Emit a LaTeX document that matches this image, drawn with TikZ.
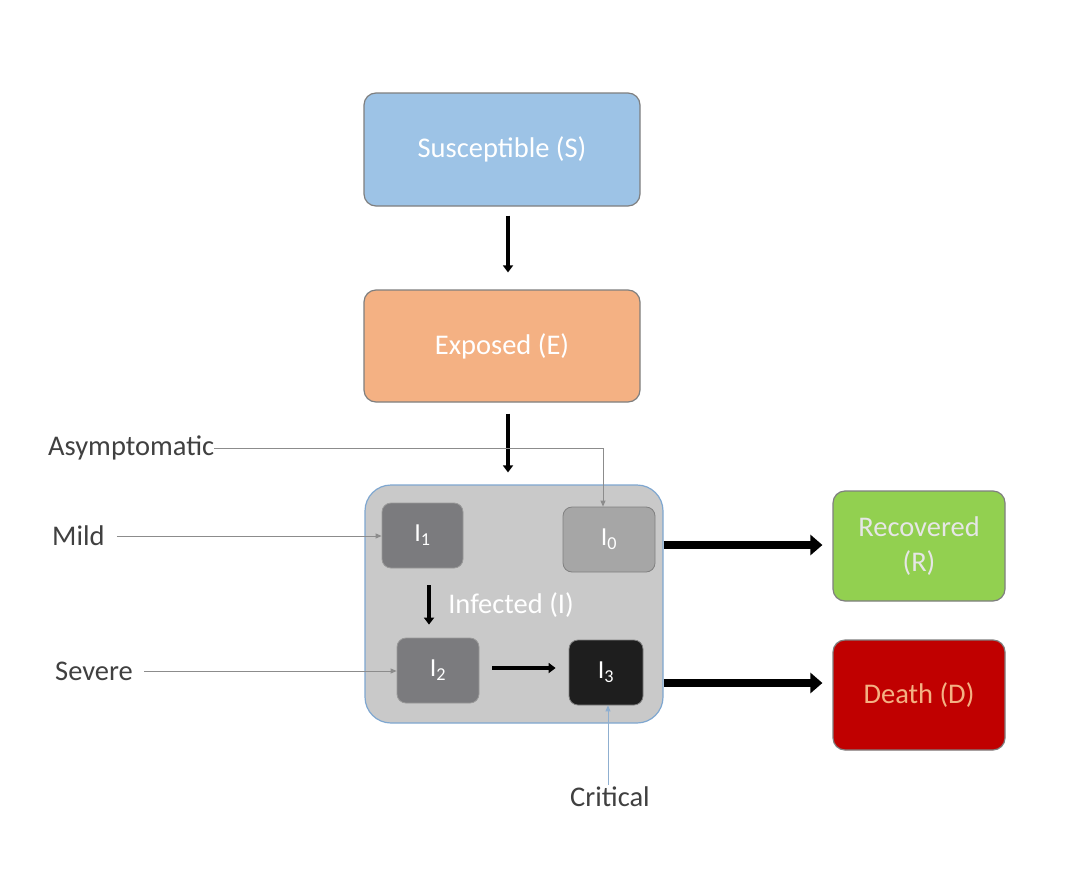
\documentclass[tikz,border=0pt]{standalone}
\usepackage{fontspec}
\setmainfont{Carlito}
\usetikzlibrary{arrows.meta}
\definecolor{sblue}{HTML}{9DC3E6}
\definecolor{eorange}{HTML}{F4B183}
\definecolor{igray}{HTML}{C9C9C9}
\definecolor{iborder}{HTML}{7FA7D0}
\definecolor{bordergray}{HTML}{7F7F7F}
\definecolor{midgray}{HTML}{7B7B7E}
\definecolor{lightgray2}{HTML}{A6A6A6}
\definecolor{nearblack}{HTML}{1E1E1E}
\definecolor{rgreen}{HTML}{92D050}
\definecolor{dred}{HTML}{C00000}
\definecolor{textlight}{HTML}{E6E6E6}
\definecolor{linegray}{HTML}{8C8C8C}
\definecolor{lineblue}{HTML}{8FAFD0}
\tikzset{
  x=1pt,y=-1pt,
  mainbox/.style={draw=bordergray,line width=1.2pt,rounded corners=12pt,inner sep=0pt,text=white,font=\fontsize{28.5}{34}\selectfont},
  subbox/.style={draw=bordergray!80,line width=0.8pt,rounded corners=9pt,inner sep=0pt,text=white,font=\fontsize{26}{30}\selectfont},
  flow/.style={line width=4.5pt,-{Triangle[length=7pt,width=10pt]}},
  bigflow/.style={line width=8pt,-{Triangle[length=12pt,width=20pt]}},
  pointer/.style={draw=linegray,line width=0.9pt,-{Triangle[length=6pt,width=5pt]}},
  lbl/.style={font=\fontsize{28.5}{34}\selectfont,text=black!75,inner sep=0pt},
}
\begin{document}
\begin{tikzpicture}
\useasboundingbox (0,0) rectangle (1086,878);
\fill[white] (0,0) rectangle (1086,878);
% main boxes
\node[mainbox,fill=sblue,minimum width=276pt,minimum height=113pt] (S) at (502,149.5) {Susceptible (S)};
\node[mainbox,fill=eorange,minimum width=276pt,minimum height=112pt] (E) at (502,346) {Exposed (E)};
\node[draw=iborder,line width=1.2pt,fill=igray,rounded corners=26pt,minimum width=298pt,minimum height=238pt,inner sep=0pt] (I) at (514,604) {};
\node[text=white,font=\fontsize{28.5}{34}\selectfont] (Ilbl) at (511,605) {Infected (I)};
\node[subbox,fill=midgray,minimum width=81pt,minimum height=65pt] (I1) at (422.5,535.5) {I\textsubscript{1}};
\node[subbox,fill=lightgray2,draw=gray,minimum width=92pt,minimum height=65pt] (I0) at (609,539.5) {I\textsubscript{0}};
\node[subbox,fill=midgray,minimum width=82pt,minimum height=65pt] (I2) at (438,670.5) {I\textsubscript{2}};
\node[subbox,fill=nearblack,draw=gray,minimum width=74pt,minimum height=65pt] (I3) at (606,672.5) {I\textsubscript{3}};
\node[mainbox,fill=rgreen,minimum width=172pt,minimum height=110pt,align=center,text=textlight,font=\fontsize{28.5}{35}\selectfont] (R) at (919,546) {Recovered\\(R)};
\node[mainbox,fill=dred,minimum width=172pt,minimum height=110pt,text=eorange] (D) at (919,695) {Death (D)};
% labels
\node[lbl,anchor=west] (asy) at (48,448) {Asymptomatic};
\node[lbl,anchor=west] (mild) at (52,536) {Mild};
\node[lbl,anchor=west] (sev) at (55,671) {Severe};
\node[lbl] (crit) at (610,797) {Critical};
% helper coordinates
\coordinate (cx1) at (508,0);
\coordinate (cx2) at (429,0);
\coordinate (cy2) at (0,668);
\coordinate (cyR) at (0,545);
\coordinate (cyD) at (0,683);
\coordinate (ca) at (603,0);
\coordinate (cc) at (608,0);
% flows
\draw[flow,shorten <=9pt,shorten >=17pt] (S.south -| cx1) -- (E.north -| cx1);
\draw[flow,shorten <=11pt,shorten >=12pt] (E.south -| cx1) -- (I.north -| cx1);
\draw[flow,line width=4pt,shorten <=17pt,shorten >=13pt] (I1.south -| cx2) -- (I2.north -| cx2);
\draw[flow,line width=4pt,shorten <=13pt,shorten >=13pt] (I2.east |- cy2) -- (I3.west |- cy2);
\draw[bigflow,shorten >=10pt] (I.east |- cyR) -- (R.west |- cyR);
\draw[bigflow,shorten >=10pt] (I.east |- cyD) -- (D.west |- cyD);
% pointers
\draw[pointer] (asy.east) -- (asy.east -| ca) -- (I0.north -| ca);
\draw[pointer,shorten <=12pt] (mild.east) -- (I1.west |- mild.east);
\draw[pointer,shorten <=11pt] (sev.east) -- (I2.west |- sev.east);
\draw[pointer,draw=lineblue,shorten <=2pt] (crit.north -| cc) -- (I3.south -| cc);
\end{tikzpicture}
\end{document}
